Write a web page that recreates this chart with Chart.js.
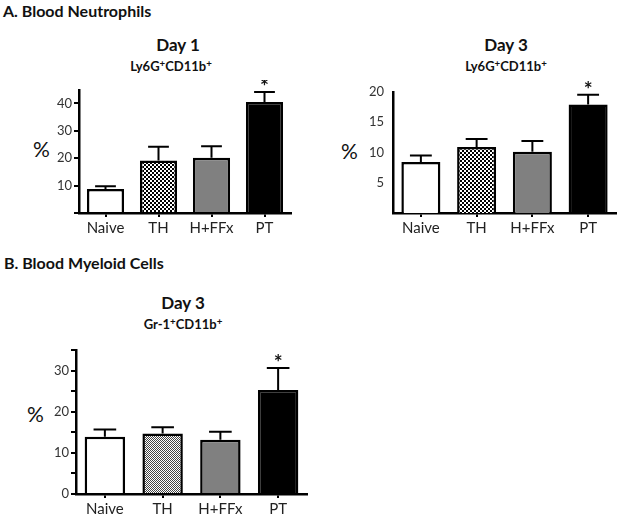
<!DOCTYPE html>
<html>
<head>
<meta charset="utf-8">
<script src="https://cdn.jsdelivr.net/npm/chart.js@4"></script>
<style>
  body { margin: 0; background: #fff; width: 622px; height: 518px; position: relative; overflow: hidden; font-family: Lato, "Open Sans", sans-serif; color: #111; }
  .txt { position: absolute; white-space: nowrap; line-height: 1; }
  .head { font-weight: bold; font-size: 16px; }
  .day { font-weight: bold; font-size: 17px; transform: translateX(-50%); }
  .marker { font-weight: bold; font-size: 13px; transform: translateX(-50%); }
  .marker sup { font-size: 0.75em; vertical-align: 0.45em; line-height: 0; }
  .pct { font-size: 21px; }
  canvas { position: absolute; }
</style>
</head>
<body>
<div class="txt head" style="left:3px; top:3px;">A. Blood Neutrophils</div>
<div class="txt day" style="left:178px; top:36px;">Day 1</div>
<div class="txt marker" style="left:171px; top:60px;">Ly6G<sup>+</sup>CD11b<sup>+</sup></div>
<div class="txt pct" style="left:33px; top:138px;">%</div>

<div class="txt day" style="left:506px; top:36px;">Day 3</div>
<div class="txt marker" style="left:506px; top:60px;">Ly6G<sup>+</sup>CD11b<sup>+</sup></div>
<div class="txt pct" style="left:341px; top:140px;">%</div>

<div class="txt head" style="left:4px; top:255px;">B. Blood Myeloid Cells</div>
<div class="txt day" style="left:183px; top:294px;">Day 3</div>
<div class="txt marker" style="left:183px; top:318px;">Gr-1<sup>+</sup>CD11b<sup>+</sup></div>
<div class="txt pct" style="left:27px; top:403px;">%</div>

<canvas id="day1" width="300" height="160" style="left:0px; top:80px;"></canvas>
<canvas id="day3" width="302" height="160" style="left:320px; top:80px;"></canvas>
<canvas id="myeloid" width="320" height="178" style="left:0px; top:340px;"></canvas>

<script>
// groups on the x axis
const groups = ['Naive', 'TH', 'H+FFx', 'PT']
const significant = [false, false, false, true]

// A. blood neutrophils, Ly6G+CD11b+ (%)
const day1Values = [8.8, 19.2, 20.2, 40.5]
const day1Errors = [1.0, 5.0, 4.2, 3.7]
const day3Values = [8.4, 10.9, 10.1, 17.9]
const day3Errors = [1.1, 1.3, 1.8, 1.6]

// B. blood myeloid cells, Gr-1+CD11b+ (%)
const myeloidValues = [13.9, 14.7, 13.2, 25.3]
const myeloidErrors = [1.8, 1.5, 1.9, 5.3]

// y axis ranges and tick steps
const day1Axis = { max: 45, step: 5, labelEvery: 10, showZero: false, ticks: true }
const day3Axis = { max: 20, step: 5, labelEvery: 5, showZero: false, ticks: false }
const myeloidAxis = { max: 35, step: 5, labelEvery: 10, showZero: true, ticks: true }

function checker(size, light) {
    let c = document.createElement('canvas')
    c.width = size * 2
    c.height = size * 2
    let g = c.getContext('2d')
    g.fillStyle = '#fff'
    g.fillRect(0, 0, size * 2, size * 2)
    g.fillStyle = light || '#000'
    g.fillRect(0, 0, size, size)
    g.fillRect(size, size, size, size)
    return g.createPattern(c, 'repeat')
}

// error bars (up only) + asterisk, drawn through the y scale
const errorBars = {
    id: 'errorBars',
    afterDatasetsDraw(chart, args, opts) {
        let ctx = chart.ctx
        let meta = chart.getDatasetMeta(0)
        let y = chart.scales.y
        let vals = chart.data.datasets[0].data
        ctx.save()
        ctx.strokeStyle = '#000'
        ctx.lineWidth = 2
        for (let i = 0; i < vals.length; i++) {
            let bar = meta.data[i]
            let top = y.getPixelForValue(vals[i] + opts.errors[i])
            let base = y.getPixelForValue(vals[i])
            let half = bar.width * 0.28
            ctx.beginPath()
            ctx.moveTo(bar.x, base)
            ctx.lineTo(bar.x, top)
            ctx.moveTo(bar.x - half, top)
            ctx.lineTo(bar.x + half, top)
            ctx.stroke()
            if (significant[i]) {
                ctx.fillStyle = '#111'
                ctx.font = 'bold 21px Lato, sans-serif'
                ctx.textAlign = 'center'
                ctx.textBaseline = 'alphabetic'
                ctx.fillText('*', bar.x, top + 2)
            }
        }
        ctx.restore()
    }
}

function draw_chart(id, values, errors, axis, thFill, box) {
    let ctx = document.getElementById(id).getContext('2d')
    new Chart(ctx, {
        type: 'bar',
        data: {
            labels: groups,
            datasets: [{
                data: values,
                backgroundColor: ['#fff', thFill, '#808080', '#000'],
                borderColor: '#000',
                borderWidth: 2.5,
                barPercentage: 0.7,
                categoryPercentage: 1
            }]
        },
        options: {
            responsive: false,
            animation: false,
            layout: { padding: { left: 0, right: box.right, top: box.top, bottom: 0 } },
            scales: {
                x: {
                    afterFit: s => { s.height = box.xHeight },
                    border: { color: '#000', width: 2.5 },
                    grid: { display: true, drawOnChartArea: false, offset: false, color: '#000', lineWidth: 2, tickLength: 4 },
                    ticks: { color: '#222', padding: 2, font: { family: 'Lato', size: 15 } }
                },
                y: {
                    min: 0,
                    max: axis.max,
                    afterFit: s => { s.width = box.yWidth },
                    border: { color: '#000', width: 2.5 },
                    grid: { display: axis.ticks, drawOnChartArea: false, color: '#000', lineWidth: 2, tickLength: 5 },
                    ticks: {
                        stepSize: axis.step,
                        color: '#333',
                        padding: axis.ticks ? 2 : 4,
                        font: { family: 'Lato', size: 13 },
                        callback: v => {
                            if (v == 0 && !axis.showZero) return ''
                            if (v % axis.labelEvery != 0) return ''
                            return v
                        }
                    }
                }
            },
            plugins: {
                legend: { display: false },
                tooltip: { enabled: false },
                errorBars: { errors: errors }
            }
        },
        plugins: [errorBars]
    })
}

draw_chart('day1', day1Values, day1Errors, day1Axis, checker(2),
    { yWidth: 79, xHeight: 27, top: 7, right: 9 })
draw_chart('day3', day3Values, day3Errors, day3Axis, checker(2),
    { yWidth: 73, xHeight: 27, top: 6, right: 6 })
draw_chart('myeloid', myeloidValues, myeloidErrors, myeloidAxis, checker(1, '#444'),
    { yWidth: 76, xHeight: 24, top: 10, right: 13 })
</script>
</body>
</html>
